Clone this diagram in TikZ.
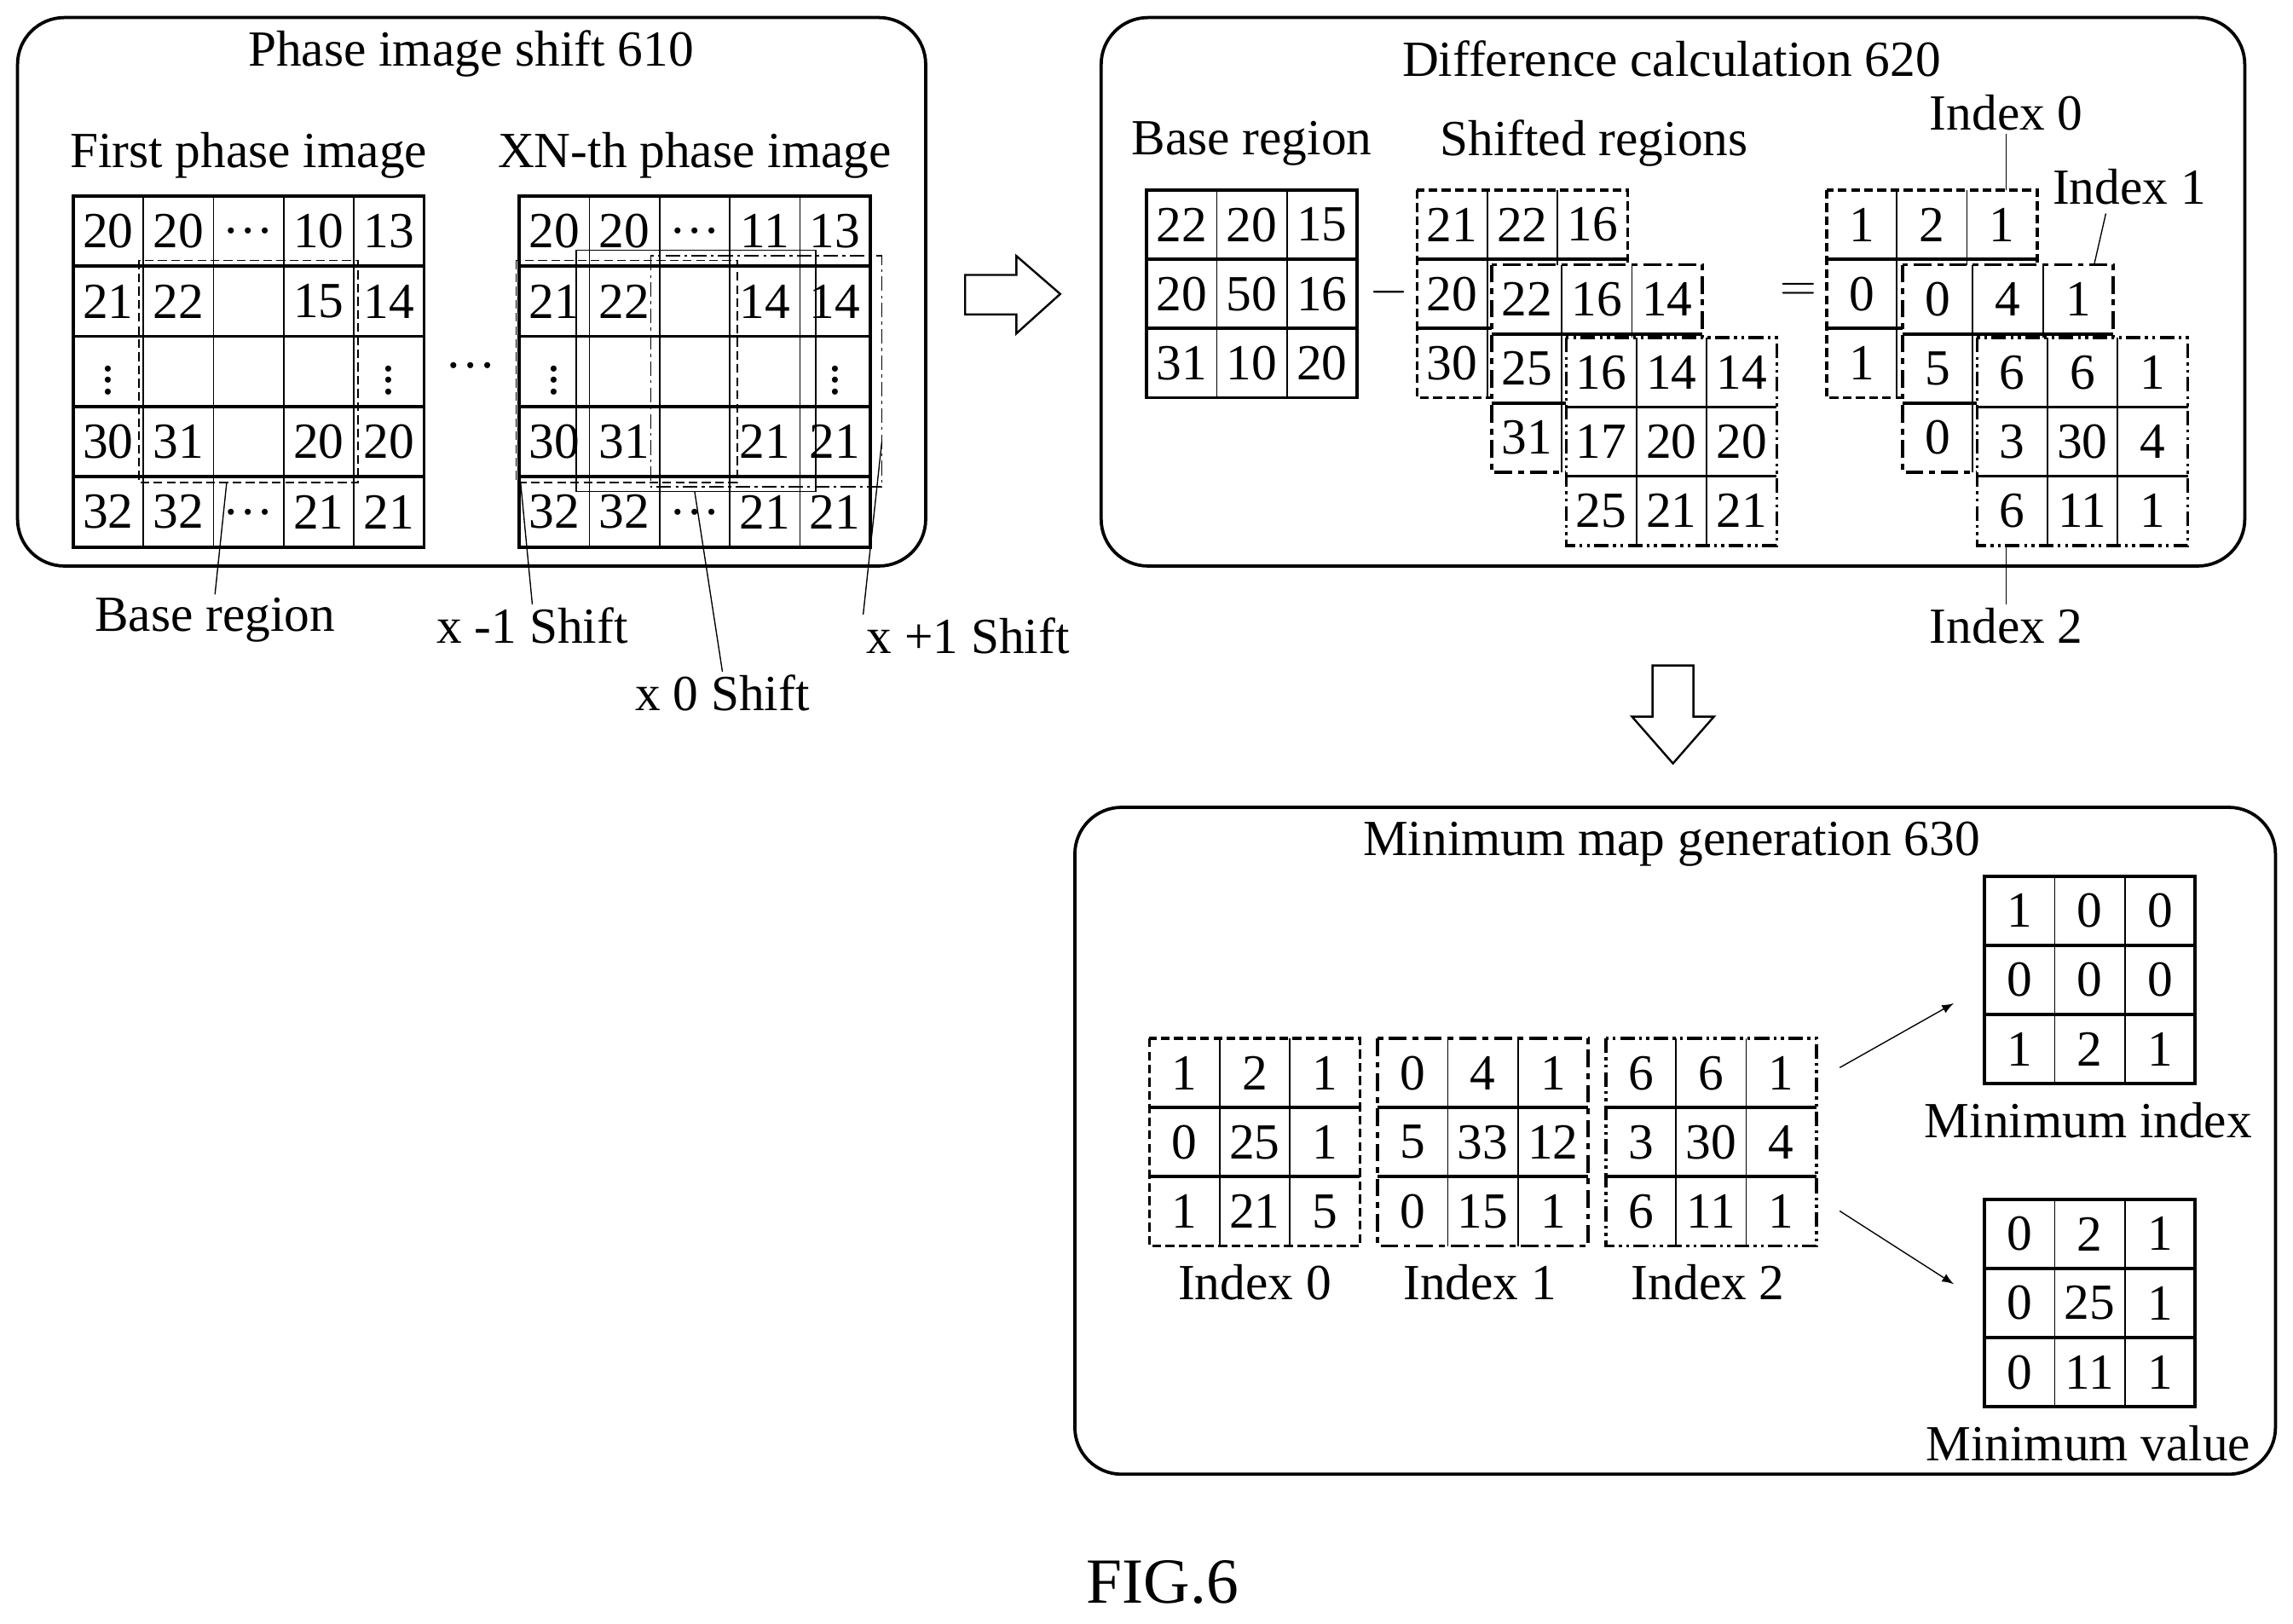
\documentclass[tikz,border=0pt]{standalone}
\usepackage{fontspec}
\setmainfont{Liberation Serif}
\begin{document}
\begin{tikzpicture}[x=0.5pt,y=-0.5pt,
  lab/.style={font=\fontsize{17.3}{19}\selectfont,inner sep=1pt},
  num/.style={font=\fontsize{17.3}{19}\selectfont,inner sep=0pt},
  hline/.style={line width=1.1pt},
  vline/.style={line width=0.5pt},
  box/.style={line width=1.1pt,rounded corners=16pt},
  sol/.style={line width=1.1pt},
  dsh/.style={line width=1.1pt,dash pattern=on 3pt off 1.5pt},
  lds/.style={line width=1.1pt,dash pattern=on 6pt off 2pt on 2pt off 2pt},
  ddt/.style={line width=1.1pt,dash pattern=on 5pt off 1.5pt on 1pt off 1.5pt on 1pt off 1.5pt},
  thinr/.style={line width=0.5pt},
  thinrd/.style={line width=0.5pt,dash pattern=on 3pt off 1.5pt},
  thinrdd/.style={line width=0.5pt,dash pattern=on 5pt off 1.5pt on 1pt off 1.5pt},
  lead/.style={line width=0.4pt},
  blk/.style={line width=0.7pt,fill=white}]
\newcommand\mygrid[9]{%
  \pgfmathtruncatemacro\nc{#6-1}\pgfmathtruncatemacro\nr{#7-1}%
  \fill[white] (#2,#3) rectangle ++({#6*#4},{#7*#5});
  \foreach \i in {1,...,\nc} \draw[vline] ({#2+\i*#4},#3) -- ++(0,{#7*#5});
  \foreach \j in {1,...,\nr} \draw[hline] (#2,{#3+\j*#5}) -- ++({#6*#4},0);
  \draw[#1] (#2,#3) rectangle ++({#6*#4},{#7*#5});
  \foreach \v [count=\k from 0] in {#8} {%
    \pgfmathtruncatemacro\cc{mod(\k,#6)}\pgfmathtruncatemacro\rr{div(\k,#6)}%
    \node[num] (#9\k) at ({#2+(\cc+0.5)*#4},{#3+(\rr+0.5)*#5}) {\v};}%
}
\useasboundingbox (0,0) rectangle (1568,1110);
% ---------- box 1
\draw[box] (12,12) rectangle (633,387);
\node[lab] (t1) at (322,37) {Phase image shift 610};
\node[lab] (fp) at (170,106) {First phase image};
\node[lab] (xn) at (475,106) {XN-th phase image};
\mygrid{sol}{50}{134}{48}{48}{5}{5}{20,20,…,10,13,21,22,{},15,14,$\vdots$,{},{},{},$\vdots$,30,31,{},20,20,32,32,…,21,21}{ga}
\mygrid{sol}{355}{134}{48}{48}{5}{5}{20,20,…,11,13,21,22,{},14,14,$\vdots$,{},{},{},$\vdots$,30,31,{},21,21,32,32,…,21,21}{gb}
\node[num] (mid) at (322,250) {…};
\draw[thinrd] (95,178) rectangle (245,330);
\draw[thinrd] (353,178) rectangle (504,330);
\draw[thinr] (394,171) rectangle (558,336);
\draw[thinrdd] (445,175) rectangle (603,333);
\node[lab] (br) at (147,424) {Base region};
\node[lab] (m1) at (364,428) {x -1 Shift};
\node[lab] (z0) at (494,474) {x 0 Shift};
\node[lab] (p1) at (662,435) {x +1 Shift};
\coordinate (c1) at (155,330); \coordinate (c2) at (356,330);
\coordinate (c3) at (475,336); \coordinate (c4) at (603,302);
\draw[lead] (c1) -- (br.north);
\draw[lead] (c2) -- (m1.north);
\draw[lead] (c3) -- (z0.north);
\draw[lead] (c4) -- (p1.north west);
% arrows
\draw[blk] (660,188) -- (695,188) -- (695,175) -- (725,201) -- (695,228) -- (695,215) -- (660,215) -- cycle;
\draw[blk] (1130,455) -- (1158,455) -- (1158,490) -- (1172,490) -- (1144,522) -- (1116,490) -- (1130,490) -- cycle;
% ---------- box 2
\draw[box] (753,12) rectangle (1535,387);
\node[lab] (t2) at (1143,40) {Difference calculation 620};
\node[lab] (bl) at (856,98) {Base region};
\node[lab] (sl) at (1090,98) {Shifted regions};
\mygrid{sol}{784}{130}{48}{47.3}{3}{3}{22,20,15,20,50,16,31,10,20}{b}
\node[lab] (minus) at (950,200) {$-$};
\mygrid{dsh}{969}{130}{48}{47.3}{3}{3}{21,22,16,20,{},{},30,{},{}}{sa}
\mygrid{lds}{1020}{181}{48}{47.3}{3}{3}{22,16,14,25,{},{},31,{},{}}{sb}
\mygrid{ddt}{1071}{231}{48}{47.3}{3}{3}{16,14,14,17,20,20,25,21,21}{sc}
\node[lab] (eq) at (1230,200) {$=$};
\mygrid{dsh}{1249}{130}{48}{47.3}{3}{3}{1,2,1,0,{},{},1,{},{}}{ra}
\mygrid{lds}{1301}{181}{48}{47.3}{3}{3}{0,4,1,5,{},{},0,{},{}}{rb}
\mygrid{ddt}{1352}{231}{48}{47.3}{3}{3}{6,6,1,3,30,4,6,11,1}{rc}
\node[lab] (i0) at (1372,77) {Index 0};
\node[lab] (i1) at (1456,128) {Index 1};
\node[lab] (i2) at (1372,428) {Index 2};
\coordinate (d0) at (1372,130); \coordinate (d1) at (1432,181); \coordinate (d2) at (1372,373);
\draw[lead] (i0.south) -- (d0);
\draw[lead] (1440,146) -- (d1);
\draw[lead] (i2.north) -- (d2);
% ---------- box 3
\draw[box] (735,552) rectangle (1556,1008);
\node[lab] (t3) at (1143,577) {Minimum map generation 630};
\mygrid{dsh}{786}{710}{48}{47.3}{3}{3}{1,2,1,0,25,1,1,21,5}{ma}
\mygrid{lds}{942}{710}{48}{47.3}{3}{3}{0,4,1,5,33,12,0,15,1}{mb}
\mygrid{ddt}{1098}{710}{48}{47.3}{3}{3}{6,6,1,3,30,4,6,11,1}{mc}
\node[lab] (l0) at (858,877) {Index 0};
\node[lab] (l1) at (1012,877) {Index 1};
\node[lab] (l2) at (1168,877) {Index 2};
\mygrid{sol}{1357}{599}{48}{47.3}{3}{3}{1,0,0,0,0,0,1,2,1}{mi}
\mygrid{sol}{1357}{820}{48}{47.3}{3}{3}{0,2,1,0,25,1,0,11,1}{mv}
\node[lab] (lmi) at (1428,766) {Minimum index};
\node[lab] (lmv) at (1428,987) {Minimum value};
\coordinate (a1) at (1258,730); \coordinate (a2) at (1336,686);
\coordinate (a3) at (1258,828); \coordinate (a4) at (1336,878);
\draw[lead,-latex] (a1) -- (a2);
\draw[lead,-latex] (a3) -- (a4);
\node[font=\fontsize{22}{24}\selectfont] (fig) at (795,1082) {FIG.6};
\end{tikzpicture}
\end{document}
